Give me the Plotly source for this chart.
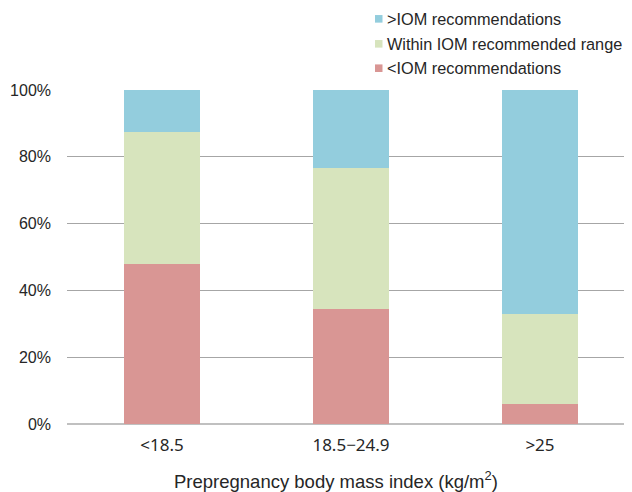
import plotly.graph_objects as go

categories = ["<18.5", "18.5\u221224.9", ">25"]
series_names = ["<IOM recommendations", "Within IOM recommended range", ">IOM recommendations"]
below_iom = [47.9, 34.5, 6.0]
within_iom = [39.6, 42.0, 26.8]
above_iom = [12.5, 23.5, 67.2]
colors = ["#D99694", "#D7E4BD", "#93CDDD"]
y_ticks = [0, 20, 40, 60, 80, 100]
y_tick_text = ["0%", "20%", "40%", "60%", "80%", "100%"]
x_title = "Prepregnancy body mass index (kg/m<sup>2</sup>)"

# page body has an 8px margin; figure sized to fit the window
W, H = 624, 484
OFF = 8
ML, MR, MT, MB = 59, 0, 81.5, 68.3
PW, PH = W - ML - MR, H - MT - MB


def px(x):  # screen x -> paper
    return (x - OFF - ML) / PW


def py(y):  # screen y -> paper
    return (H - MB - (y - OFF)) / PH


fig = go.Figure()
for name, vals, col in zip(series_names, [below_iom, within_iom, above_iom], colors):
    fig.add_trace(go.Bar(x=categories, y=vals, name=name, marker_color=col,
                         marker_line_width=0, width=0.4, showlegend=False))

# manual legend (top to bottom: reversed series order)
legend_y = [18.3, 43.3, 67.7]
for yy, name, col in zip(legend_y, series_names[::-1], colors[::-1]):
    fig.add_shape(type="rect", xref="paper", yref="paper",
                  x0=px(375), x1=px(382.5), y0=py(yy + 3.8), y1=py(yy - 3.8),
                  fillcolor=col, line_width=0)
    fig.add_annotation(xref="paper", yref="paper", x=px(385), y=py(yy), text=name,
                       showarrow=False, xanchor="left", yanchor="middle",
                       font=dict(family="Liberation Sans, Arial", size=16.3, color="#262626"))

fig.add_annotation(xref="paper", yref="paper", x=px(336), y=py(480), text=x_title,
                   showarrow=False, xanchor="center", yanchor="middle",
                   font=dict(family="Liberation Sans, Arial", size=18.5, color="#262626"))

fig.update_layout(
    width=W, height=H,
    margin=dict(l=ML, r=MR, t=MT, b=MB, autoexpand=False),
    barmode="stack",
    plot_bgcolor="white", paper_bgcolor="white",
    font=dict(family="Liberation Sans, Arial", size=16, color="#262626"),
    xaxis=dict(range=[-0.503, 2.487], showgrid=False, zeroline=False, showline=False,
               ticks="", automargin=False,
               tickfont=dict(family="Noto Sans", size=17, color="#262626"),
               ticklabelstandoff=9),
    yaxis=dict(range=[0, 100], tickmode="array", tickvals=y_ticks, ticktext=y_tick_text,
               showgrid=True, gridcolor="#A6A6A6", gridwidth=1,
               zeroline=True, zerolinecolor="#C0C0C0", zerolinewidth=1.5,
               showline=False, ticks="", ticklabelstandoff=15, automargin=False,
               tickfont=dict(family="Liberation Sans, Arial", size=16, color="#262626")),
)

fig.write_html("out.html")
